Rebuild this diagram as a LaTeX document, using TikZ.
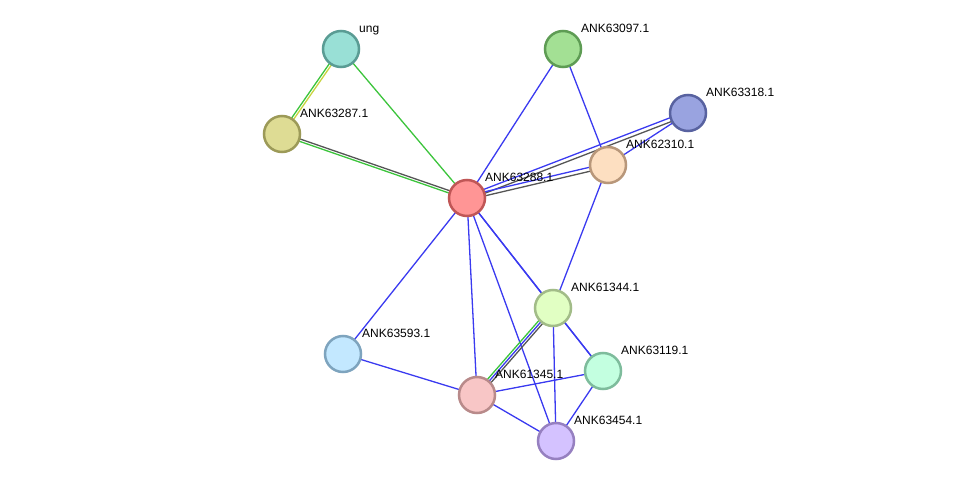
\documentclass[tikz,border=0pt]{standalone}
\usepackage{fontspec}
\setmainfont{Liberation Sans}
\usetikzlibrary{calc,backgrounds}

\definecolor{eblue}{HTML}{3A3AF0}
\definecolor{egreen}{HTML}{3CC43C}
\definecolor{egray}{HTML}{555555}
\definecolor{eyellow}{HTML}{C8D440}
% node colours: border, fill
\definecolor{bung}{HTML}{5A9C94}   \definecolor{fung}{HTML}{99E0D6}
\definecolor{b63287}{HTML}{9C9A58} \definecolor{f63287}{HTML}{DEDC94}
\definecolor{b63097}{HTML}{5E9C54} \definecolor{f63097}{HTML}{A3E094}
\definecolor{b63318}{HTML}{5862A0} \definecolor{f63318}{HTML}{99A3E0}
\definecolor{b62310}{HTML}{B8977A} \definecolor{f62310}{HTML}{FDDFC1}
\definecolor{b63288}{HTML}{C05656} \definecolor{f63288}{HTML}{FF9595}
\definecolor{b61344}{HTML}{A2BC88} \definecolor{f61344}{HTML}{E1FFC3}
\definecolor{b63593}{HTML}{7EA4BE} \definecolor{f63593}{HTML}{C3E8FF}
\definecolor{b63119}{HTML}{7EBC9C} \definecolor{f63119}{HTML}{C3FFE0}
\definecolor{b61345}{HTML}{B88A8A} \definecolor{f61345}{HTML}{F8C6C6}
\definecolor{b63454}{HTML}{9680C0} \definecolor{f63454}{HTML}{D4C2FF}

% offset copy of an edge, shifted sideways by #3
\newcommand\sideedge[4]{%
  \draw[#4] ($(#1.center)!#3!90:(#2.center)$) -- ($(#2.center)!#3!-90:(#1.center)$);}

\begin{document}
\begin{tikzpicture}[
    x=1pt, y=-1pt,
    font=\fontsize{12}{14}\selectfont,
    prot/.style={circle, draw=b#1, fill=f#1, line width=2.5pt,
      minimum size=36pt, inner sep=0pt},
    lbl/.style={anchor=west, inner sep=1pt, text height=8.6pt, text depth=2.4pt},
    link/.style={line width=1.3pt},
    blu/.style={link, eblue},
    grn/.style={link, egreen},
    gry/.style={link, egray},
    ylw/.style={link, eyellow}
  ]
  \useasboundingbox (0,0) rectangle (975,487);

  % proteins
  \node[prot=ung] (ung) at (341,49) {};
  \node[prot=63287] (n63287) at (282,134) {};
  \node[prot=63097] (n63097) at (563,49) {};
  \node[prot=63318] (n63318) at (688,113) {};
  \node[prot=62310] (n62310) at (608,165) {};
  \node[prot=63288] (n63288) at (467,198) {};
  \node[prot=61344] (n61344) at (553,308) {};
  \node[prot=63593] (n63593) at (343,354) {};
  \node[prot=63119] (n63119) at (603,371) {};
  \node[prot=61345] (n61345) at (477,395) {};
  \node[prot=63454] (n63454) at (556,441) {};

  % names
  \node[lbl] (lung) at (358,29) {ung};
  \node[lbl] (l63287) at (299,114) {ANK63287.1};
  \node[lbl] (l63097) at (580,29) {ANK63097.1};
  \node[lbl] (l63318) at (705,93) {ANK63318.1};
  \node[lbl] (l62310) at (625,145) {ANK62310.1};
  \node[lbl] (l63288) at (484,178) {ANK63288.1};
  \node[lbl] (l61344) at (570,288) {ANK61344.1};
  \node[lbl] (l63593) at (361,334) {ANK63593.1};
  \node[lbl] (l63119) at (620,351) {ANK63119.1};
  \node[lbl] (l61345) at (494,375) {ANK61345.1};
  \node[lbl] (l63454) at (573,421) {ANK63454.1};

  \begin{scope}[on background layer]
    % evidence lines
    \sideedge{ung}{n63287}{1.2pt}{ylw}
    \sideedge{ung}{n63287}{-1.2pt}{grn}
    \draw[grn] (ung.center) -- (n63288.center);
    \sideedge{n63287}{n63288}{1.2pt}{gry}
    \sideedge{n63287}{n63288}{-1.2pt}{grn}
    \draw[blu] (n63097.center) -- (n63288.center);
    \draw[blu] (n63097.center) -- (n62310.center);
    \sideedge{n63288}{n63318}{2pt}{blu}
    \sideedge{n63288}{n63318}{-2pt}{gry}
    \sideedge{n63288}{n62310}{2pt}{blu}
    \sideedge{n63288}{n62310}{-2pt}{gry}
    \draw[blu] (n62310.center) -- (n63318.center);
    \draw[blu] (n62310.center) -- (n61344.center);
    \draw[blu] (n63288.center) -- (n61344.center);
    \draw[blu] (n63288.center) -- (n63119.center);
    \draw[blu] (n63288.center) -- (n63593.center);
    \draw[blu] (n63288.center) -- (n61345.center);
    \draw[blu] (n63288.center) -- (n63454.center);
    \sideedge{n61344}{n61345}{2.4pt}{gry}
    \draw[blu] (n61344.center) -- (n61345.center);
    \sideedge{n61344}{n61345}{-2.4pt}{grn}
    \draw[blu] (n61344.center) -- (n63119.center);
    \draw[blu] (n61344.center) -- (n63454.center);
    \draw[blu] (n63593.center) -- (n61345.center);
    \draw[blu] (n61345.center) -- (n63119.center);
    \draw[blu] (n61345.center) -- (n63454.center);
    \draw[blu] (n63119.center) -- (n63454.center);
  \end{scope}
\end{tikzpicture}
\end{document}
